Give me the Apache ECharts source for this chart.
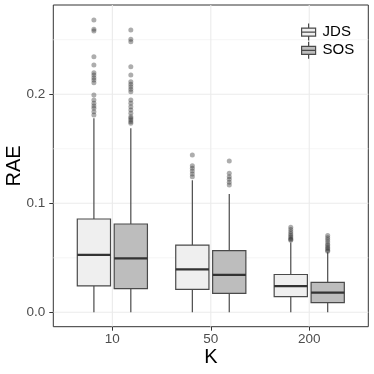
<!DOCTYPE html>
<html><head><meta charset="utf-8">
<script src="https://cdn.jsdelivr.net/npm/echarts@6/dist/echarts.min.js"></script>
<style>html,body{margin:0;padding:0;background:#fff}#c{width:374px;height:374px}</style>
</head><body><div id="c"></div>
<script>
const categories = ['10', '50', '200'];
const groups = ['JDS', 'SOS'];
// [lowWhisker, Q1, median, Q3, highWhisker] per category
const jdsBox = [[0, 0.0242, 0.0526, 0.0856, 0.1780], [0, 0.0211, 0.0394, 0.0617, 0.1212], [0, 0.0143, 0.0240, 0.0347, 0.0640]];
const sosBox = [[0, 0.0217, 0.0495, 0.0810, 0.1688], [0, 0.0174, 0.0343, 0.0566, 0.1086], [0, 0.0088, 0.0180, 0.0275, 0.0550]];
const jdsOutliers = [
  [0.2682, 0.2596, 0.2581, 0.2345, 0.2269, 0.2198, 0.2177, 0.2152, 0.2131, 0.2106, 0.1994, 0.1948, 0.1917, 0.1893, 0.1872, 0.1840, 0.1810],
  [0.1443, 0.1345, 0.1321, 0.1296, 0.1269, 0.1244],
  [0.0780, 0.0760, 0.0740, 0.0720, 0.0705, 0.0690, 0.0678, 0.0668, 0.0660]
];
const sosOutliers = [
  [0.2590, 0.2505, 0.2483, 0.2253, 0.2177, 0.2116, 0.2092, 0.2070, 0.2046, 0.2024, 0.1948, 0.1917, 0.1886, 0.1856, 0.1826, 0.1795, 0.1780, 0.1764, 0.1748, 0.1734],
  [0.1388, 0.1275, 0.1244, 0.1220, 0.1193, 0.1168],
  [0.0705, 0.0685, 0.0665, 0.0645, 0.0625, 0.0610, 0.0595, 0.0582, 0.0570, 0.0560]
];
const yTicks = [0, 0.1, 0.2];
const yMinor = [0.05, 0.15, 0.25];

const DODGE = 0.1875, BOX_W = 0.3375;
const FILLS = {JDS: '#EFEFEF', SOS: '#BDBDBD'};
const EDGE = '#4a4a4a';
const ICON = 'path://M7 0L7 4.5M0 4.5L14 4.5L14 12.5L0 12.5ZM0 8.5L14 8.5M7 12.5L7 17';

function boxRender(fill, offset) {
  return function (params, api) {
    const x = api.value(0) + offset;
    const lo = api.coord([x, api.value(1)]);
    const q1 = api.coord([x, api.value(2)]);
    const md = api.coord([x, api.value(3)]);
    const q3 = api.coord([x, api.value(4)]);
    const hi = api.coord([x, api.value(5)]);
    const hw = api.size([BOX_W, 0])[0] / 2;
    const ls = {stroke: EDGE, lineWidth: 1.2};
    return {type: 'group', children: [
      {type: 'line', shape: {x1: lo[0], y1: lo[1], x2: q1[0], y2: q1[1]}, style: ls},
      {type: 'line', shape: {x1: q3[0], y1: q3[1], x2: hi[0], y2: hi[1]}, style: ls},
      {type: 'rect', shape: {x: q3[0] - hw, y: q3[1], width: 2 * hw, height: q1[1] - q3[1]}, style: {fill: fill, stroke: EDGE, lineWidth: 1.2}},
      {type: 'line', shape: {x1: md[0] - hw, y1: md[1], x2: md[0] + hw, y2: md[1]}, style: {stroke: '#333', lineWidth: 2.2}}
    ]};
  };
}
function hGridRender(params, api) {
  const cs = params.coordSys;
  const p = api.coord([1, api.value(1)]);
  return {type: 'line', shape: {x1: cs.x, y1: p[1], x2: cs.x + cs.width, y2: p[1]},
    style: {stroke: api.value(2) ? '#EBEBEB' : '#F3F3F3', lineWidth: api.value(2) ? 1.1 : 0.8}};
}
function vGridRender(params, api) {
  const cs = params.coordSys;
  const p = api.coord([api.value(0), 0]);
  return {type: 'line', shape: {x1: p[0], y1: cs.y, x2: p[0], y2: cs.y + cs.height},
    style: {stroke: '#EBEBEB', lineWidth: 1.1}};
}

const hGridData = yTicks.map(v => [1, v, 1]).concat(yMinor.map(v => [1, v, 0]));
const vGridData = categories.map((c, i) => [i + 1, 0]);

function boxData(arr) { return arr.map((b, i) => [i + 1].concat(b)); }
function outlierData(arr, offset) {
  const out = [];
  arr.forEach((vals, i) => vals.forEach(v => out.push([i + 1 + offset, v])));
  return out;
}

const chart = echarts.init(document.getElementById('c'), null, {renderer: 'canvas'});
chart.setOption({
  animation: false,
  textStyle: {fontFamily: 'Liberation Sans, Arial, sans-serif'},
  grid: {left: 53.3, right: 5.7, top: 5, bottom: 47.3, show: true, borderColor: '#333', borderWidth: 1,
    backgroundColor: 'transparent', containLabel: false, outerBoundsMode: 'none'},
  xAxis: {
    type: 'value', min: 0.4, max: 3.6,
    splitLine: {show: false}, axisLine: {show: false, onZero: false},
    axisTick: {show: true, customValues: [1, 2, 3], length: 4, lineStyle: {color: '#333'}},
    axisLabel: {customValues: [1, 2, 3], formatter: v => categories[Math.round(v) - 1], color: '#4D4D4D', fontSize: 13.5, margin: 6},
    name: 'K', nameLocation: 'middle', nameGap: 20.5, nameMoveOverlap: false,
    nameTextStyle: {fontSize: 20, color: '#000'}
  },
  yAxis: {
    type: 'value', min: -0.0132, max: 0.2819,
    splitLine: {show: false}, axisLine: {show: false, onZero: false},
    axisTick: {show: true, customValues: yTicks, length: 4, lineStyle: {color: '#333'}},
    axisLabel: {customValues: yTicks, formatter: v => v.toFixed(1), color: '#4D4D4D', fontSize: 13.5, margin: 8},
    name: 'RAE', nameLocation: 'middle', nameGap: 29, nameMoveOverlap: false,
    nameTextStyle: {fontSize: 20, color: '#000'}
  },
  legend: {
    orient: 'vertical', left: 296, top: 18, itemWidth: 14, itemHeight: 17, itemGap: 0,
    selectedMode: false,
    textStyle: {fontSize: 15, color: '#000', padding: [0, 0, 0, 2]},
    data: groups.map(g => ({name: g, icon: ICON, itemStyle: {color: FILLS[g], borderColor: EDGE, borderWidth: 1.2}}))
  },
  series: [
    {type: 'custom', name: 'hgrid', z: 0, silent: true, renderItem: hGridRender, data: hGridData, encode: {x: 0, y: 1}},
    {type: 'custom', name: 'vgrid', z: 0, silent: true, renderItem: vGridRender, data: vGridData, encode: {x: 0, y: 1}},
    {type: 'custom', name: 'JDS', z: 2, renderItem: boxRender(FILLS.JDS, -DODGE), data: boxData(jdsBox), encode: {x: 0, y: [1, 2, 3, 4, 5]}, itemStyle: {color: FILLS.JDS}},
    {type: 'custom', name: 'SOS', z: 2, renderItem: boxRender(FILLS.SOS, DODGE), data: boxData(sosBox), encode: {x: 0, y: [1, 2, 3, 4, 5]}, itemStyle: {color: FILLS.SOS}},
    {type: 'scatter', name: 'JDS outliers', z: 3, symbolSize: 5, data: outlierData(jdsOutliers, -DODGE), itemStyle: {color: 'rgba(51,51,51,0.5)'}},
    {type: 'scatter', name: 'SOS outliers', z: 3, symbolSize: 5, data: outlierData(sosOutliers, DODGE), itemStyle: {color: 'rgba(51,51,51,0.5)'}}
  ]
});
</script>
</body></html>
